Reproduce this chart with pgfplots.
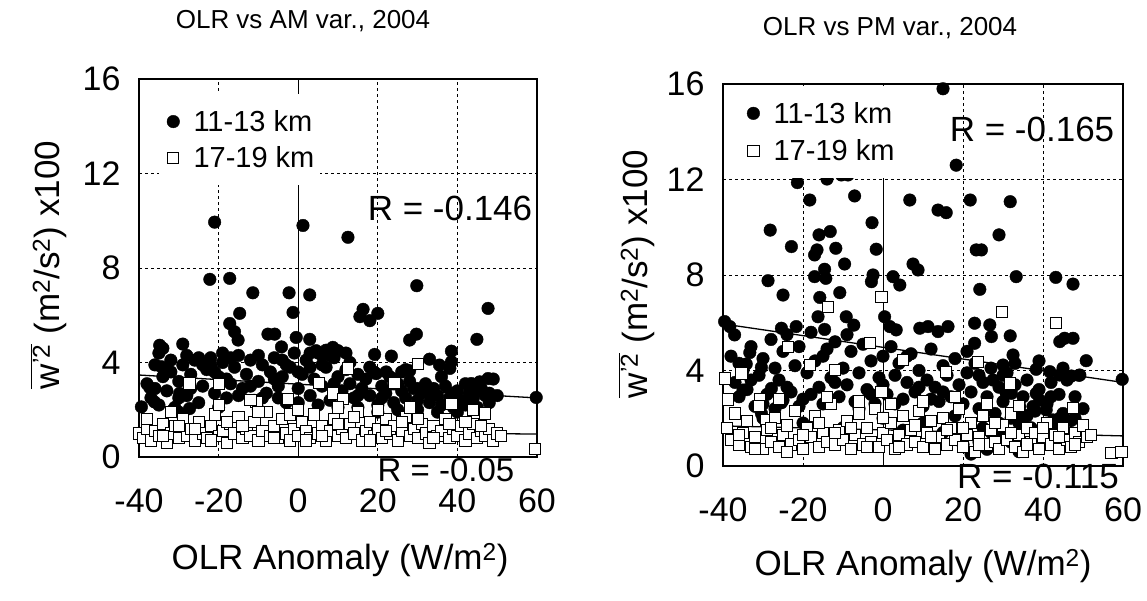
\documentclass[border=0pt]{standalone}
\usepackage{fontspec}
\setmainfont{Liberation Sans}
\usepackage{pgfplots}
\pgfplotsset{compat=1.18}

\pgfplotsset{
  panel/.style={
    scale only axis, clip=false,
    xmin=-40, xmax=60, ymin=0, ymax=16,
    xtick={-40,-20,0,20,40,60}, ytick={0,4,8,12,16},
    xticklabels={-40,-20,0,20,40,60}, yticklabels={0,4,8,12,16},
    major tick length=0pt,
    tick label style={font=\fontsize{34}{40}\selectfont, inner sep=1pt},
    xticklabel style={yshift=-30.3pt},
    yticklabel style={xshift=-17.3pt},
    grid=major,
    major grid style={black, line width=0.8pt, dash pattern=on 3pt off 3pt},
    extra x ticks={0}, extra x tick labels={},
    extra x tick style={grid=major, major grid style={black, solid, line width=0.9pt}},
    axis line style={line width=1.8pt},
    legend cell align=left,
    legend style={draw=none, fill=white, inner xsep=4pt, inner ysep=14pt,
      font=\fontsize{29}{35}\selectfont, row sep=10pt},
    legend image code/.code={\path (0pt,-8pt) (28pt,8pt);
      \draw[##1] plot coordinates {(10pt,0pt)};},
  },
  dot/.style={only marks, mark=*, mark size=6.3pt, black},
  box/.style={only marks, mark=square*, mark size=5.6pt,
    mark options={draw=black, fill=white, line width=0.9pt}},
  fit/.style={black, line width=1.3pt, no marks},
}

\begin{document}
\begin{tikzpicture}
\useasboundingbox (0,0) rectangle (1147pt,601pt);

% ---------- left panel: AM ----------
\begin{axis}[panel, width=398pt, height=378pt, at={(139pt,144pt)}, anchor=south west,
  legend style={at={(0.05,0.96)}, anchor=north west}]
\addplot[dot] coordinates {
(-21.0,9.94)(1.2,9.8)(12.5,9.3)(-22.2,7.52)(-17.2,7.56)(-11.4,6.95)(-2.3,6.95)(2.9,6.86)
(29.8,7.25)(47.7,6.29)(-1.3,6.12)(16.3,6.25)(15.5,5.94)(18,5.77)(20,6.08)(-14.7,6.08)
(-17.2,5.65)(-16,5.3)(-15.1,4.95)(-7.6,5.2)(-5.9,5.2)(-0.5,5.06)(2.9,4.98)(-4.2,4.66)
(29.7,5.2)(28,4.95)(44.9,4.98)(-34.8,4.73)(-34,4.6)(-29,4.78)(8.7,4.64)(7,4.52)
(19.2,4.34)(23.4,4.27)(38.5,4.48)(38.5,4.03)(38.1,3.75)(35.5,3.89)(33,4.14)(19.6,3.53)
(22.1,3.6)(28,3.65)(47.7,3.32)(45.6,3.18)(43.5,3.11)(59.8,2.52)(-37.3,2.94)(-39.4,2.12)
(-36.1,2.33)(-31.5,1.98)(-27.3,2.05)(-29.8,2.69)(-34.4,3.82)
(-38,3.1)(-37,2.5)(-36,3.9)(-35,2.2)(-34,3.4)(-33,2.8)(-32,3.6)(-31,2.1)(-30,3.2)(-29,3.9)
(-28,2.6)(-27,3.5)(-26,4.1)(-25,2.3)(-24,3.0)(-23,3.7)(-22,4.2)(-21,2.7)(-20,3.4)(-19,4.0)
(-18,2.5)(-17,3.1)(-16,3.8)(-15,4.3)(-14,2.9)(-13,3.5)(-12,4.1)(-11,2.4)(-10,3.2)(-9,3.9)
(-8,2.7)(-7,3.6)(-6,4.2)(-5,3.0)(-4,3.4)(-3,2.3)(-2,3.8)(-1,4.4)(0,2.9)(1,3.5)
(2,4.1)(3,2.6)(4,3.3)(5,4.4)(6,3.0)(7,3.8)(8,2.4)(9,4.2)(10,3.4)(11,2.8)
(12,3.7)(13,3.1)(14,2.5)(15,3.5)(16,2.9)(17,3.3)(18,2.6)(19,3.6)(20,2.2)(21,3.0)
(22,2.7)(23,3.4)(24,2.3)(25,3.1)(26,2.8)(27,2.5)(28,3.2)(29,2.9)(30,2.4)(31,2.7)
(32,3.1)(33,2.3)(34,2.9)(35,2.6)(36,2.2)(37,3.0)(38,2.5)(39,2.1)(40,2.8)(41,2.4)
(42,2.2)(43,2.7)(44,2.5)(45,2.1)(46,2.9)(47,2.6)(48,2.3)(49,3.3)(50,2.6)
(-36,2.9)(-33,3.7)(-30,2.5)(-27,2.9)(-24,3.9)(-21,3.6)(-18,3.3)(-15,2.6)(-12,3.0)(-9,2.5)
(-6,3.3)(-3,3.9)(0,3.6)(3,3.8)(6,3.9)(9,3.1)(12,4.4)(15,2.6)(18,3.8)(21,2.5)
(24,3.3)(27,3.7)(30,2.9)(33,2.7)(36,3.4)(39,2.7)(42,3.1)(45,2.9)(48,2.7)
(-20,2.1)(-10,2.0)(0,2.3)(10,2.1)(20,1.9)(30,2.0)(40,1.9)(-30,1.9)(-5,2.5)(5,2.2)
(15,2.1)(25,2.0)(35,1.9)(4.5,4.5)(8,4.3)(-17,4.2)(-22,3.9)(13,4.0)(26,3.6)
(-35,4.4)(-32,4.1)(-28,4.3)(-25,4.2)(-19,4.4)(-10,4.3)(-4,4.1)(3,4.4)(10,4.5)(6,4.3)
};
\addlegendentry{11-13 km}
\addplot[fit, forget plot] coordinates {(-40,3.47)(60,2.5)};
\addplot[box] coordinates {
(12.5,3.75)(30.1,3.93)(-27.3,3.11)(-19.9,3.08)(24.2,3.14)(38.5,2.26)(46.9,1.84)(59.4,0.35)
(5.2,3.14)(-10.5,2.33)(8.7,2.69)(11.3,2.47)(-2.6,2.47)
(-40,1.0)(-39,0.8)(-38,1.2)(-37,0.7)(-36,1.1)(-35,0.9)(-34,1.4)(-33,0.6)(-32,1.0)(-31,1.3)
(-30,0.8)(-29,1.6)(-28,0.9)(-27,1.2)(-26,0.7)(-25,1.5)(-24,1.0)(-23,0.8)(-22,1.3)(-21,1.8)
(-20,0.9)(-19,1.1)(-18,0.6)(-17,1.4)(-16,1.0)(-15,1.7)(-14,0.8)(-13,1.2)(-12,0.9)(-11,1.5)
(-10,0.7)(-9,1.1)(-8,1.9)(-7,0.9)(-6,1.3)(-5,0.8)(-4,1.6)(-3,1.0)(-2,0.7)(-1,1.2)
(0,0.9)(1,1.5)(2,1.1)(3,0.8)(4,1.8)(5,1.0)(6,1.3)(7,0.7)(8,1.1)(9,1.6)
(10,0.9)(11,1.2)(12,0.8)(13,1.4)(14,1.0)(15,1.9)(16,0.7)(17,1.1)(18,1.5)(19,0.9)
(20,1.2)(21,0.8)(22,1.6)(23,1.0)(24,1.3)(25,0.7)(26,1.1)(27,1.7)(28,0.9)(29,1.2)
(30,0.8)(31,1.4)(32,1.0)(33,0.6)(34,1.3)(35,0.9)(36,1.1)(37,1.6)(38,0.8)(39,1.2)
(40,0.9)(41,1.3)(42,0.7)(43,1.0)(44,1.4)(45,0.8)(46,1.1)(47,0.9)(48,1.2)(49,0.7)
(50,1.0)(51,0.9)
(-38,1.6)(-34,0.9)(-30,1.3)(-26,1.2)(-22,0.7)(-18,1.5)(-14,1.3)(-10,1.9)(-6,0.8)(-2,1.8)
(2,0.7)(6,0.9)(10,1.4)(14,1.7)(18,0.7)(22,1.1)(26,1.5)(30,1.6)(34,0.8)(38,1.4)
(42,1.5)(46,1.3)(-20,2.2)(0,2.0)(10,2.1)(20,2.0)(-32,1.9)(28,2.1)(44,2.0)(-12,2.4)
};
\addlegendentry{17-19 km}
\addplot[fit, forget plot] coordinates {(-40,1.15)(60,0.97)};
\end{axis}

% ---------- right panel: PM ----------
\begin{axis}[panel, width=400pt, height=382pt, at={(723pt,135pt)}, anchor=south west,
  legend style={at={(0.04,0.995)}, anchor=north west, row sep=11pt}]
\addplot[dot] coordinates {
(15,15.8)(18.3,12.6)(-21.4,11.87)(-18.3,11.14)(-14,12.02)(-10.4,12.19)(-8.75,12.19)(-7.1,11.31)
(6.7,11.14)(13.75,10.72)(15.8,10.61)(21.8,11.14)(31.8,11.07)(-28.2,9.88)(-22.9,9.19)(-16,9.68)
(-13.2,9.82)(-16.5,9.05)(-17.1,8.84)(-11.8,9.12)(-2.75,10.19)(-1.7,9.08)(-9.6,8.46)(-14.6,8.24)
(-17.1,7.93)(-14.3,7.86)(-2.5,8.0)(-2.9,7.72)(2.5,7.93)(4.2,7.58)(7.5,8.46)(8.75,8.21)
(23.3,9.05)(24.6,9.05)(29,9.68)(33.3,7.93)(43.2,7.9)(47.5,7.62)(-28.75,7.76)(-25,7.16)
(-15.8,7.06)(-10.8,7.26)(24.2,7.4)(-16.25,6.25)(-14.6,5.72)(-9.2,6.25)(-7.3,5.9)(0.4,6.25)
(1.7,5.84)(3.3,5.7)(9.2,5.77)(11.25,5.84)(13.75,5.63)(16.25,5.84)(22.9,5.98)(26.7,5.91)
(27.1,5.42)(22.9,5.14)(31.8,5.45)(44.2,5.21)(45.4,5.35)(47.5,5.35)(50.8,4.41)(59.8,3.63)
(-39.6,6.05)(-38.3,5.84)(-37.1,5.49)(-25.4,5.77)(-21.7,5.84)(-33.3,4.75)(-34.2,4.27)(-35.4,4.16)
(-30.4,4.13)(-35,3.18)(-27.9,3.25)(-25,2.76)(-30.4,2.2)(-25.4,2.65)(32.5,4.65)(30,4.23)
(38.3,4.05)(41.7,3.95)(44.2,3.81)(47.1,3.77)(49.2,3.81)(38.3,3.04)(39.2,2.76)(40.8,2.35)
(42.5,1.93)(44.2,2.0)(37.5,2.49)(34.2,2.49)(35,2.14)(30.8,3.04)(27.5,3.6)(32.1,3.04)
(-38,4.6)(-37,3.5)(-36,2.9)(-35,4.0)(-34,3.2)(-33,5.0)(-32,2.5)(-31,3.8)(-30,4.5)(-29,3.0)
(-28,5.3)(-27,2.4)(-26,3.6)(-25,4.8)(-24,5.5)(-23,3.1)(-22,4.2)(-21,5.0)(-20,2.8)(-19,3.9)
(-18,5.6)(-17,4.4)(-16,3.3)(-15,2.6)(-14,4.9)(-13,3.7)(-12,5.2)(-11,2.9)(-10,4.1)(-9,3.4)
(-8,4.8)(-7,2.7)(-6,3.9)(-5,5.1)(-4,3.2)(-3,4.4)(-2,2.6)(-1,3.7)(0,4.6)(1,3.0)
(2,5.0)(3,3.8)(4,4.3)(5,2.8)(6,3.5)(7,4.7)(8,3.1)(9,4.0)(10,2.5)(11,3.6)
(12,4.9)(13,3.3)(14,2.7)(15,4.2)(16,3.8)(17,2.9)(18,4.5)(19,3.4)(20,2.6)(21,3.9)
(22,3.1)(23,4.3)(24,2.4)(25,3.5)(26,2.9)(27,4.1)(28,2.2)(29,3.3)(30,2.7)(31,3.9)
(32,2.0)(33,3.4)(34,1.8)(35,2.9)(36,3.6)(37,1.6)(38,2.3)(39,3.2)(40,1.5)(41,2.6)
(42,3.5)(43,1.7)(44,3.0)(45,2.2)(46,3.6)(47,1.9)(48,2.9)(49,3.8)(50,2.4)
(-36,4.3)(-33,3.6)(-30,2.6)(-27,4.1)(-24,3.3)(-21,2.5)(-18,3.0)(-15,4.6)(-12,3.5)(-9,5.5)
(-6,2.4)(-3,3.0)(0,3.4)(3,2.6)(6,4.6)(9,3.3)(12,2.8)(15,3.1)(18,2.1)(21,4.8)
(24,3.8)(27,1.4)(30,3.8)(33,4.3)(36,2.1)(39,4.4)(42,2.9)(45,4.1)(48,2.0)
(20,0.9)(22,0.5)(24,1.0)(26,0.7)(28,1.1)(30,1.3)(32,1.0)(34,0.6)(25,1.6)(29,1.8)
(-20,1.8)(-10,1.6)(0,2.0)(10,1.8)(15,1.4)(-30,2.0)(5,1.5)
};
\addlegendentry{11-13 km}
\addplot[fit, forget plot] coordinates {(-40,5.95)(60,3.5)};
\addplot[box] coordinates {
(-0.4,7.07)(-13.75,6.65)(29.8,6.46)(43.2,6.0)(-23.75,4.97)(-3.3,5.14)(-18.3,4.23)(-12.1,4.02)
(-35.4,3.88)(-39.6,3.67)(-38.75,2.79)(15.8,3.95)(23.75,4.37)(31.7,3.46)(5,4.44)(-0.4,3.11)
(47.5,2.42)(57.1,0.53)(59.6,0.6)(-30.8,2.79)(-29.2,1.93)
(-39,1.6)(-38,1.1)(-37,2.2)(-36,0.9)(-35,1.4)(-34,1.9)(-33,0.8)(-32,1.2)(-31,2.5)(-30,0.7)
(-29,1.5)(-28,1.0)(-27,2.0)(-26,0.8)(-25,1.3)(-24,1.7)(-23,0.9)(-22,2.3)(-21,1.1)(-20,0.7)
(-19,1.6)(-18,1.2)(-17,2.1)(-16,0.8)(-15,1.4)(-14,1.0)(-13,2.6)(-12,0.9)(-11,1.5)(-10,1.1)
(-9,1.9)(-8,0.7)(-7,1.3)(-6,2.2)(-5,0.9)(-4,1.6)(-3,1.0)(-2,2.4)(-1,0.8)(0,1.4)
(1,1.1)(2,1.8)(3,0.7)(4,1.3)(5,2.1)(6,0.9)(7,1.5)(8,1.0)(9,2.3)(10,0.8)
(11,1.4)(12,1.9)(13,0.7)(14,1.2)(15,2.0)(16,0.9)(17,1.6)(18,1.1)(19,2.4)(20,0.8)
(21,1.3)(22,1.8)(23,0.6)(24,1.2)(25,2.1)(26,0.9)(27,1.5)(28,1.0)(29,0.7)(30,1.7)
(31,1.1)(32,2.2)(33,0.8)(34,1.3)(35,0.6)(36,1.6)(37,1.0)(38,1.4)(39,0.7)(40,1.2)
(41,1.8)(42,0.9)(43,1.3)(44,0.7)(45,1.6)(46,1.1)(47,0.8)(48,1.4)(49,1.0)(50,1.7)
(51,1.2)(52,1.3)
(-36,1.3)(-32,0.7)(-28,1.6)(-24,0.6)(-20,1.3)(-16,1.8)(-12,1.4)(-8,1.6)(-4,0.8)(0,2.0)
(4,0.8)(8,1.7)(12,1.2)(16,1.5)(20,1.6)(24,0.9)(28,1.8)(32,1.4)(36,0.9)(40,1.6)
(44,1.2)(48,0.9)(-14,2.9)(-6,2.7)(2,2.6)(10,2.7)(18,2.9)(26,2.6)(34,2.5)(-26,2.8)
};
\addlegendentry{17-19 km}
\addplot[fit, forget plot] coordinates {(-40,1.68)(60,1.26)};
\end{axis}

% ---------- titles, axis labels, correlation notes ----------
\begin{scope}[every node/.style={inner sep=0pt}]
\node[font=\fontsize{26}{31}\selectfont] at (303pt,580pt) {OLR vs AM var., 2004};
\node[font=\fontsize{26}{31}\selectfont] at (890pt,573pt) {OLR vs PM var., 2004};
\node[font=\fontsize{35}{42}\selectfont, anchor=base] at (340pt,31pt) {OLR Anomaly (W/m\textsuperscript{2})};
\node[font=\fontsize{35}{42}\selectfont, anchor=base] at (923pt,25pt) {OLR Anomaly (W/m\textsuperscript{2})};
\node[font=\fontsize{35}{42}\selectfont, anchor=base, rotate=90] at (59pt,336pt)
  {$\overline{\mbox{w\textsuperscript{'2}}}$ (m\textsuperscript{2}/s\textsuperscript{2}) x100};
\node[font=\fontsize{35}{42}\selectfont, anchor=base, rotate=90] at (647pt,327pt)
  {$\overline{\mbox{w\textsuperscript{'2}}}$ (m\textsuperscript{2}/s\textsuperscript{2}) x100};
\node[font=\fontsize{35}{42}\selectfont] at (450pt,393pt) {R = -0.146};
\node[font=\fontsize{33}{40}\selectfont] at (446pt,131pt) {R = -0.05};
\node[font=\fontsize{35}{42}\selectfont] at (1032pt,472pt) {R = -0.165};
\node[font=\fontsize{35}{42}\selectfont] at (1038pt,125pt) {R = -0.115};
\end{scope}
\end{tikzpicture}
\end{document}
